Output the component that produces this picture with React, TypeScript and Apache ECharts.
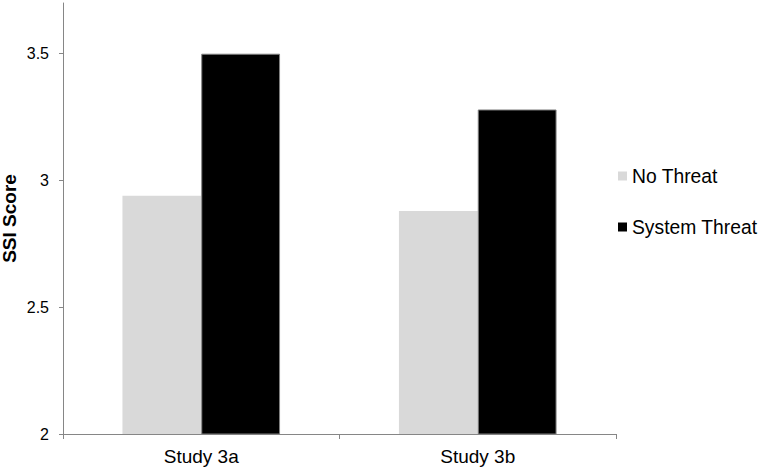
import React, { useEffect, useRef } from "react";
import * as echarts from "echarts";

const categories = ["Study 3a", "Study 3b"];
const noThreat = [2.94, 2.88];
const systemThreat = [3.5, 3.28];
const seriesNames = ["No Threat", "System Threat"];

export default function App() {
  const ref = useRef<HTMLDivElement>(null);
  useEffect(() => {
    if (!ref.current) return;
    const chart = echarts.init(ref.current, null, { renderer: "svg" });
    const font = "Liberation Sans, Arial, sans-serif";
    chart.setOption({
      animation: false,
      grid: {
        left: 63,
        top: 3,
        width: 553,
        height: 431,
        containLabel: false,
        outerBoundsMode: "none",
      },
      legend: {
        orient: "vertical",
        left: 613,
        top: 161,
        itemWidth: 9,
        itemHeight: 9,
        itemGap: 31,
        icon: "rect",
        data: seriesNames,
        itemStyle: { borderWidth: 0 },
        textStyle: { fontFamily: font, fontSize: 19.3, color: "#000", lineHeight: 20 },
      },
      xAxis: {
        type: "category",
        data: categories,
        axisLine: { lineStyle: { color: "#868686", width: 1 } },
        axisTick: { show: true, alignWithLabel: false, length: 5, lineStyle: { color: "#868686" } },
        axisLabel: { fontFamily: font, fontSize: 19, color: "#000", margin: 13 },
      },
      yAxis: {
        type: "value",
        min: 2,
        max: 3.7,
        interval: 0.5,
        name: "SSI Score",
        nameLocation: "middle",
        nameGap: 44,
        nameMoveOverlap: false,
        nameTextStyle: { fontFamily: font, fontSize: 19, fontWeight: "bold", color: "#000" },
        splitLine: { show: false },
        axisLine: { show: true, lineStyle: { color: "#868686", width: 1 } },
        axisTick: { show: true, length: 4, lineStyle: { color: "#868686" } },
        axisLabel: {
          fontFamily: font,
          fontSize: 16,
          color: "#000",
          margin: 14,
          showMaxLabel: false,
          formatter: (v: number) => (v > 3.6 ? "" : String(v)),
        },
      },
      series: [
        {
          name: seriesNames[0],
          type: "bar",
          data: noThreat,
          barGap: "0%",
          barCategoryGap: "43%",
          itemStyle: { color: "#d9d9d9" },
        },
        {
          name: seriesNames[1],
          type: "bar",
          data: systemThreat,
          barGap: "0%",
          barCategoryGap: "43%",
          itemStyle: { color: "#000000", borderColor: "#808080", borderWidth: 1 },
        },
      ],
    });
    return () => chart.dispose();
  }, []);
  return (
    <div
      ref={ref}
      style={{ position: "absolute", left: 0, top: 0, width: 758, height: 471 }}
    />
  );
}
